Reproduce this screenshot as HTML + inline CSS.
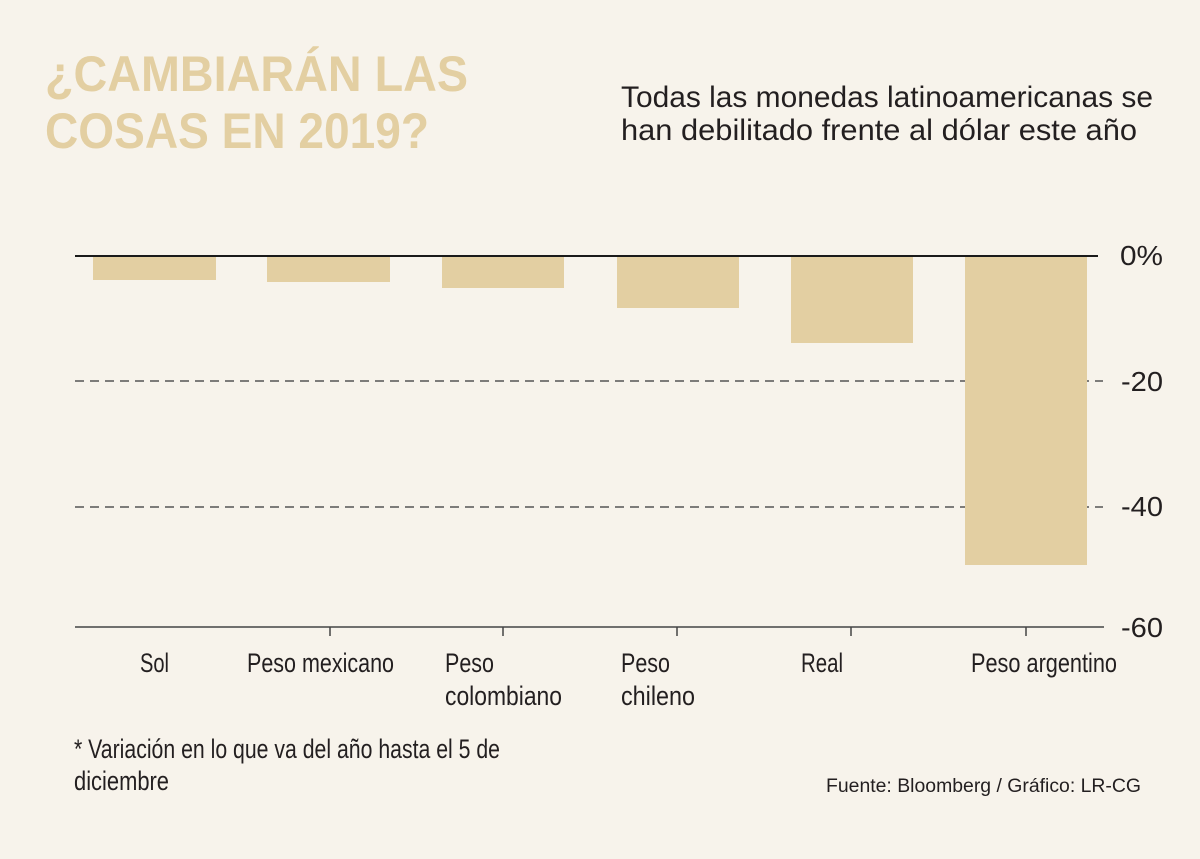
<!DOCTYPE html>
<html><head><meta charset="utf-8"><style>
html,body{margin:0;padding:0;background:#f7f3eb;}
svg{display:block}
text{font-family:"Liberation Sans Narrow","Liberation Sans",sans-serif;fill:#231f20}
</style></head><body>
<svg width="1200" height="859" viewBox="0 0 1200 859" xmlns="http://www.w3.org/2000/svg">
<rect width="1200" height="859" fill="#f7f3eb"/>
<g font-family="Liberation Sans" font-weight="bold" fill="#e3cfa2">
<text x="45" y="91" font-size="50" textLength="423" lengthAdjust="spacingAndGlyphs" style="font-family:'Liberation Sans';fill:#e3cfa2;font-weight:bold">¿CAMBIARÁN LAS</text>
<text x="45" y="148" font-size="50" textLength="384" lengthAdjust="spacingAndGlyphs" style="font-family:'Liberation Sans';fill:#e3cfa2;font-weight:bold">COSAS EN 2019?</text>
</g>
<text x="621" y="107" font-size="30" textLength="532" lengthAdjust="spacingAndGlyphs" style="font-family:'Liberation Sans'">Todas las monedas latinoamericanas se</text>
<text x="621" y="140" font-size="30" textLength="516" lengthAdjust="spacingAndGlyphs" style="font-family:'Liberation Sans'">han debilitado frente al dólar este año</text>
<g stroke="#555" stroke-width="1.5" stroke-dasharray="9,6">
<line x1="75" y1="381" x2="1103" y2="381"/>
<line x1="75" y1="507" x2="1103" y2="507"/>
</g>
<g fill="#e3cfa2">
<rect x="93" y="256" width="123" height="24"/>
<rect x="267" y="256" width="123" height="26"/>
<rect x="442" y="256" width="122" height="32"/>
<rect x="617" y="256" width="122" height="52"/>
<rect x="791" y="256" width="122" height="87"/>
<rect x="965" y="256" width="122" height="309"/>
</g>
<line x1="75" y1="256" x2="1098" y2="256" stroke="#1a1a1a" stroke-width="2"/>
<line x1="75" y1="627" x2="1104" y2="627" stroke="#444" stroke-width="1.5"/>
<g stroke="#444" stroke-width="1.5">
<line x1="330" y1="627" x2="330" y2="636"/>
<line x1="503" y1="627" x2="503" y2="636"/>
<line x1="677" y1="627" x2="677" y2="636"/>
<line x1="851" y1="627" x2="851" y2="636"/>
<line x1="1026" y1="627" x2="1026" y2="636"/>
</g>
<g font-size="28">
<text x="1120" y="265" textLength="43" lengthAdjust="spacingAndGlyphs">0%</text>
<text x="1121" y="391" textLength="42" lengthAdjust="spacingAndGlyphs">-20</text>
<text x="1121" y="516" textLength="42" lengthAdjust="spacingAndGlyphs">-40</text>
<text x="1121" y="637" textLength="42" lengthAdjust="spacingAndGlyphs">-60</text>
</g>
<g font-size="27">
<text x="140" y="672" textLength="29" lengthAdjust="spacingAndGlyphs">Sol</text>
<text x="247" y="672" textLength="147" lengthAdjust="spacingAndGlyphs">Peso mexicano</text>
<text x="445" y="672" textLength="49" lengthAdjust="spacingAndGlyphs">Peso</text>
<text x="445" y="705" textLength="117" lengthAdjust="spacingAndGlyphs">colombiano</text>
<text x="621" y="672" textLength="49" lengthAdjust="spacingAndGlyphs">Peso</text>
<text x="621" y="705" textLength="74" lengthAdjust="spacingAndGlyphs">chileno</text>
<text x="801" y="672" textLength="42" lengthAdjust="spacingAndGlyphs">Real</text>
<text x="971" y="672" textLength="146" lengthAdjust="spacingAndGlyphs">Peso argentino</text>
<text x="74" y="758" textLength="426" lengthAdjust="spacingAndGlyphs">* Variación en lo que va del año hasta el 5 de</text>
<text x="74" y="790" textLength="95" lengthAdjust="spacingAndGlyphs">diciembre</text>
</g>
<text x="826" y="792" font-size="19" textLength="315" lengthAdjust="spacingAndGlyphs" style="font-family:'Liberation Sans'">Fuente: Bloomberg / Gráfico: LR-CG</text>
</svg>
</body></html>
